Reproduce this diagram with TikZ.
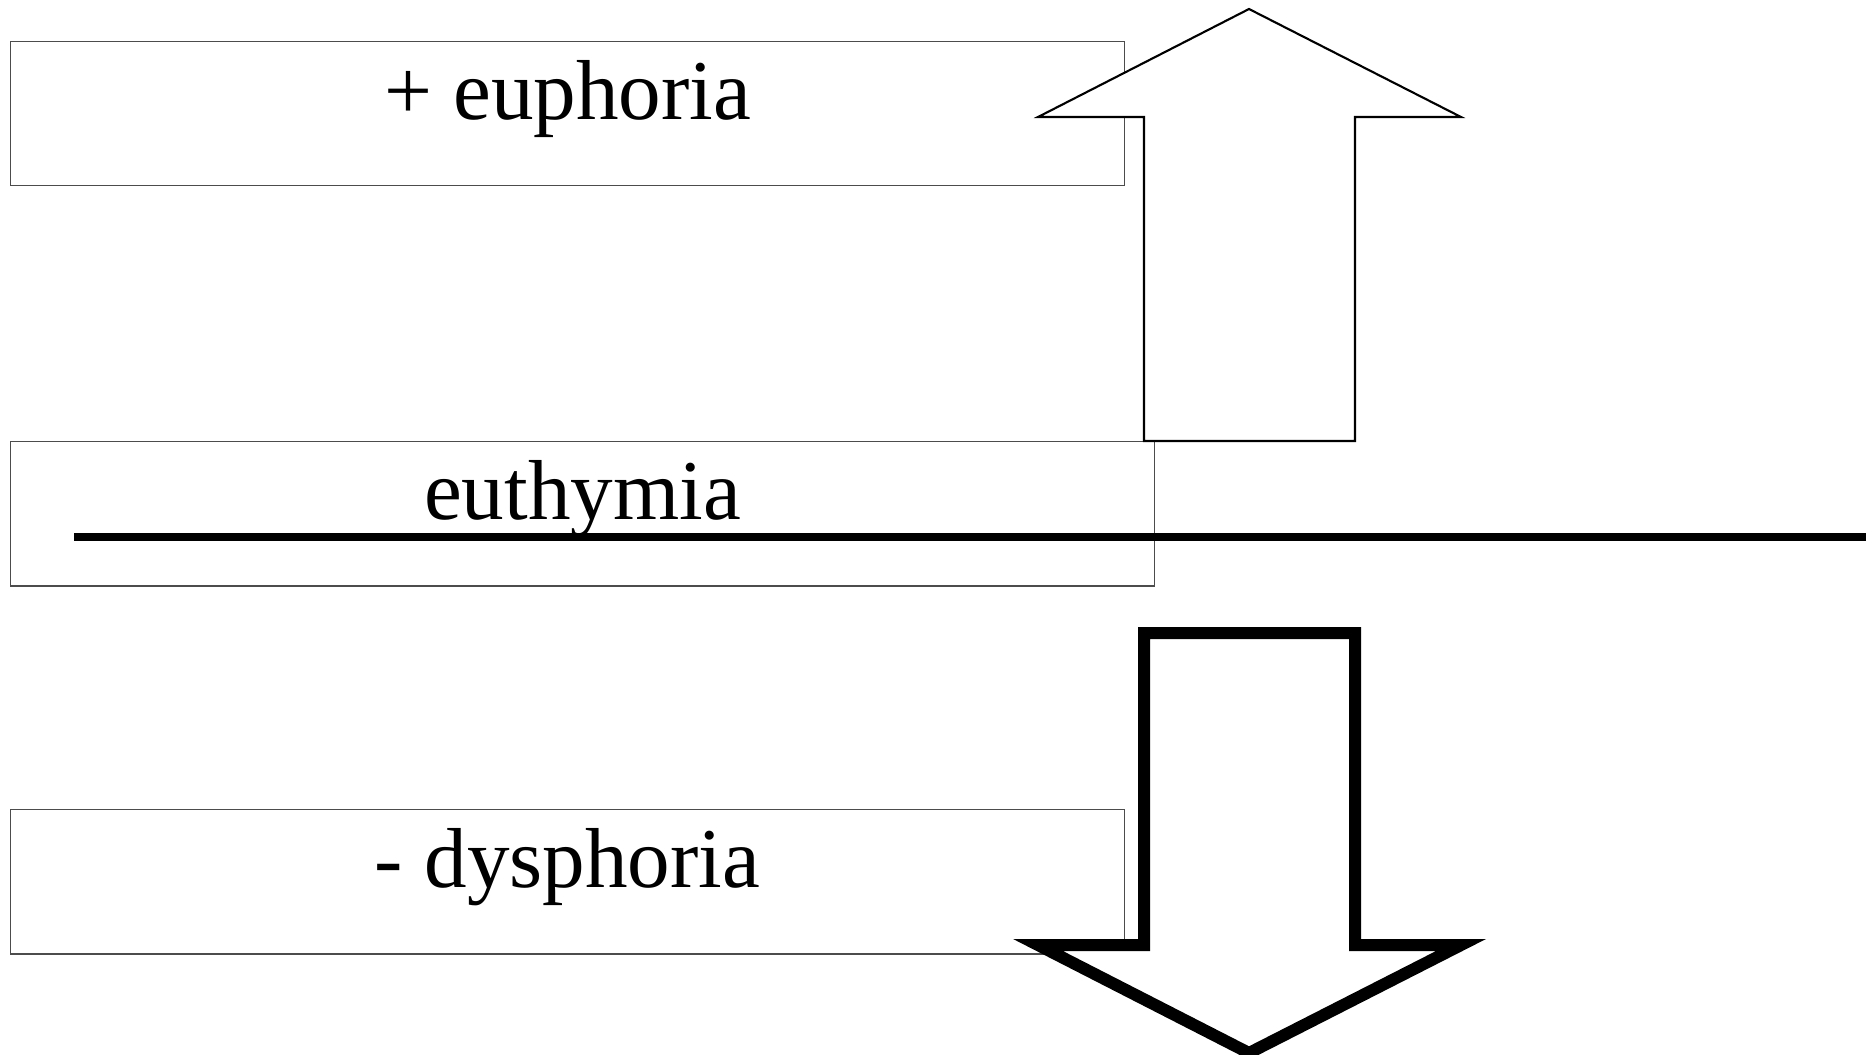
\documentclass[tikz,border=0pt]{standalone}
\usepackage{fontspec}
\setmainfont{Liberation Serif}
\begin{document}
\begin{tikzpicture}[x=0.01cm,y=-0.01cm,
  moodbox/.style={draw=black!70,line width=0.4pt,fill=white,rectangle,anchor=north west,inner sep=0pt,minimum height=1.44cm,text height=0.6cm,text depth=0.49cm,font=\fontsize{24.2pt}{29pt}\selectfont}]
\useasboundingbox (0,0) rectangle (1876,1054);
\node[moodbox,minimum width=11.13cm] (euphoria) at (10,41) {+ euphoria};
\node[moodbox,minimum width=11.43cm] (euthymia) at (10,441) {euthymia};
\node[moodbox,minimum width=11.13cm] (dysphoria) at (10,809) {- dysphoria};
\coordinate (base west) at (74,537);
\coordinate (base east) at (1866,537);
\draw[line width=0.08cm] (base west) -- (base east);
\draw[fill=white,line width=0.6pt] (1144,441) -- (1144,117) -- (1038,117) -- (1249,9) -- (1461,117) -- (1355,117) -- (1355,441) -- cycle;
\draw[fill=white,line width=0.12cm] (1144,633) -- (1144,945) -- (1038,945) -- (1249,1053) -- (1461,945) -- (1355,945) -- (1355,633) -- cycle;
\end{tikzpicture}
\end{document}
